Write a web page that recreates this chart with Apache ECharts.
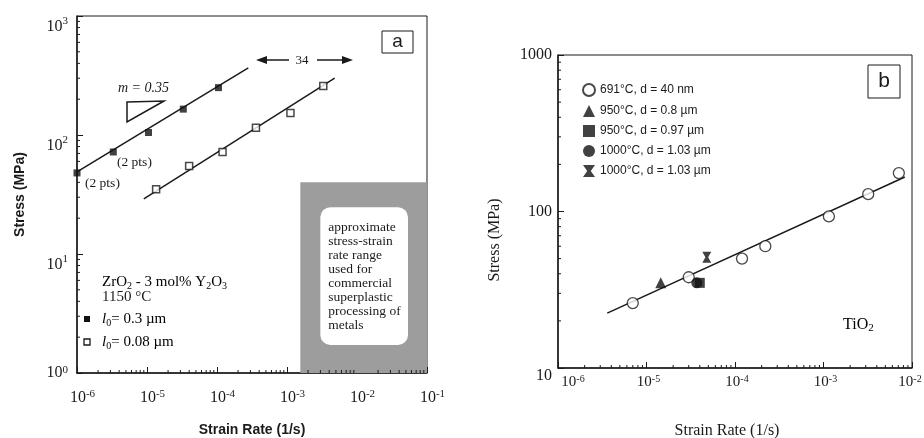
<!DOCTYPE html>
<html lang="en">
<head>
<meta charset="UTF-8">
<title>stress vs strain rate</title>
<script src="https://cdn.jsdelivr.net/npm/echarts@6/dist/echarts.min.js"></script>
<style>
    html, body, #main {
        margin: 0;
        padding: 0;
        width: 924px;
        height: 438px;
        background: #fff;
    }
</style>
</head>
<body>
<div id="main"></div>
<script>
// (a) ZrO2 - 3 mol% Y2O3, 1150 °C
const rateA_03 = [1e-6, 3.3e-6, 1.05e-5, 3.3e-5, 1.05e-4];
const stressA_03 = [48, 72, 105, 165, 250];
const rateA_008 = [1.35e-5, 4e-5, 1.2e-4, 3.6e-4, 1.12e-3, 3.3e-3];
const stressA_008 = [35, 55, 72, 115, 153, 258];
const fitRateA_03 = [1e-6, 2.8e-4];
const fitStressA_03 = [49, 366];
const fitRateA_008 = [9e-6, 4.8e-3];
const fitStressA_008 = [29, 301];
// commercial superplastic window (shaded)
const commercialRate = [1.55e-3, 1e-1];
const commercialStress = [1, 40];

// (b) TiO2
const rateB_40nm = [7e-6, 3e-5, 1.2e-4, 2.2e-4, 1.15e-3, 3.2e-3, 7.1e-3];
const stressB_40nm = [26, 38, 50, 60, 93, 129, 176];
const rateB_08 = [1.45e-5];
const stressB_08 = [35];
const rateB_097 = [4.0e-5];
const stressB_097 = [35];
const rateB_103a = [3.7e-5];
const stressB_103a = [35];
const rateB_103b = [4.8e-5];
const stressB_103b = [51];
const fitRateB = [3.6e-6, 8.3e-3];
const fitStressB = [22.4, 166];

const namesB = ['691°C, d = 40 nm', '950°C, d = 0.8 µm', '950°C, d = 0.97 µm',
    '1000°C, d = 1.03 µm', '1000°C, d = 1.03 µm '];

const serif = 'Liberation Serif';
const sans = 'Liberation Sans';
const ink = '#1a1a1a';

const pts = (xs, ys) => xs.map((x, i) => [x, ys[i]]);

function expOf(v) {
    return Math.round(Math.log10(v));
}
function xPowA(v) {
    return '{b|10}{e|' + expOf(v) + '}';
}
// end labels of (b): first sits right of its tick, last a little left
function xPowB(v) {
    const e = expOf(v);
    if (e === -6) return '{bf|10}{e|' + e + '}';
    if (e === -2) return '{b|10}{el|' + e + '}';
    return '{b|10}{e|' + e + '}';
}
// y axis (a): labels hang under the tick, 10^0 centred on it
function yPow(v) {
    const e = expOf(v);
    return e === 0 ? '{b0|10}{e|0}' : '{b|10}{e|' + e + '}';
}
const xRichA = {
    b: { fontSize: 16, fontFamily: serif, color: ink, lineHeight: 18, padding: [0, 0, 0, 11] },
    e: { fontSize: 11, fontFamily: serif, color: ink, verticalAlign: 'top', lineHeight: 11 }
};
const xRichB = {
    b: { fontSize: 15, fontFamily: serif, color: ink, lineHeight: 16, padding: [0, 0, 0, 4] },
    bf: { fontSize: 15, fontFamily: serif, color: ink, lineHeight: 16, padding: [0, 0, 0, 30] },
    e: { fontSize: 10, fontFamily: serif, color: ink, verticalAlign: 'top', lineHeight: 10 },
    el: { fontSize: 10, fontFamily: serif, color: ink, verticalAlign: 'top', lineHeight: 10, padding: [0, 8, 0, 0] }
};
const yRichA = {
    b: { fontSize: 16, fontFamily: serif, color: ink, lineHeight: 22 },
    b0: { fontSize: 16, fontFamily: serif, color: ink, lineHeight: 16 },
    e: { fontSize: 11, fontFamily: serif, color: ink, verticalAlign: 'top', lineHeight: 11 }
};
const subRich = (size) => ({
    t: { fontFamily: serif, fontSize: size, color: ink, lineHeight: size + 2 },
    i: { fontFamily: serif, fontStyle: 'italic', fontSize: size, color: ink, lineHeight: size + 2 },
    s: { fontFamily: serif, fontSize: Math.round(size * 0.68), color: ink, verticalAlign: 'bottom', lineHeight: 9 }
});

// minor log ticks (2..9 per decade)
function minors(lo, hi) {
    const out = [];
    for (let e = lo; e < hi; e++) {
        for (let k = 2; k <= 9; k++) out.push(k * Math.pow(10, e));
    }
    return out;
}
function tickSeries(idx, vals, dir, fixed) {
    return {
        type: 'custom', xAxisIndex: idx, yAxisIndex: idx, silent: true, clip: false, z: 5,
        data: vals.map(v => dir === 'x' ? [v, fixed] : [fixed, v]),
        renderItem: (params, api) => {
            const p = api.coord([api.value(0), api.value(1)]);
            const shape = dir === 'x'
                ? { x1: p[0], y1: p[1], x2: p[0], y2: p[1] - 3 }
                : { x1: p[0], y1: p[1], x2: p[0] + 3, y2: p[1] };
            return { type: 'line', shape: shape, style: { stroke: ink, lineWidth: 1 } };
        }
    };
}

function logAxis(idx, min, max, opts) {
    return Object.assign({
        type: 'log', logBase: 10, gridIndex: idx, min: min, max: max,
        axisLine: { show: true, lineStyle: { color: ink, width: 1.5 } },
        axisTick: { show: true, inside: true, length: 6, lineStyle: { color: ink } },
        splitLine: { show: false },
        nameLocation: 'middle'
    }, opts);
}

const chart = echarts.init(document.getElementById('main'));

const option = {
    animation: false,
    backgroundColor: '#fff',
    grid: [
        { left: 77, top: 16, width: 350, height: 357, show: true, borderColor: ink, borderWidth: 1,
          containLabel: false, outerBoundsMode: 'none' },
        { left: 558, top: 55, width: 354, height: 313, show: true, borderColor: ink, borderWidth: 1,
          containLabel: false, outerBoundsMode: 'none' }
    ],
    xAxis: [
        logAxis(0, 1e-6, 1e-1, {
            name: 'Strain Rate (1/s)', nameGap: 50,
            nameTextStyle: { fontFamily: sans, fontWeight: 'bold', fontSize: 14, color: ink },
            axisLabel: { margin: 16, formatter: xPowA, rich: xRichA }
        }),
        logAxis(1, 1e-6, 1e-2, {
            name: 'Strain Rate (1/s)', nameGap: 55,
            nameTextStyle: { fontFamily: serif, fontSize: 16, color: ink, padding: [0, 16, 0, 0] },
            axisLabel: { margin: 6, formatter: xPowB, rich: xRichB }
        })
    ],
    yAxis: [
        logAxis(0, 1, 1000, {
            name: 'Stress (MPa)', nameGap: 50,
            nameTextStyle: { fontFamily: sans, fontWeight: 'bold', fontSize: 14, color: ink },
            axisLabel: { margin: 9, verticalAlign: 'top', verticalAlignMinLabel: 'middle', formatter: yPow, rich: yRichA }
        }),
        logAxis(1, 10, 1000, {
            axisLabel: { margin: 6, fontFamily: serif, fontSize: 16, color: ink, verticalAlignMinLabel: 'top',
                         formatter: v => String(v) }
        })
    ],
    legend: {
        data: namesB,
        orient: 'vertical',
        left: 582, top: 83,
        padding: 0,
        itemGap: 8,
        itemWidth: 12, itemHeight: 12,
        selectedMode: false,
        textStyle: { fontFamily: sans, fontSize: 12, color: ink }
    },
    series: [
        // shaded commercial window
        {
            type: 'custom', xAxisIndex: 0, yAxisIndex: 0, silent: true, z: 1,
            data: [[commercialRate[0], commercialStress[1], commercialRate[1], commercialStress[0]]],
            renderItem: (params, api) => {
                const a = api.coord([api.value(0), api.value(1)]);
                const b = api.coord([api.value(2), api.value(3)]);
                return {
                    type: 'group', children: [
                        { type: 'rect', shape: { x: a[0], y: a[1], width: b[0] - a[0], height: b[1] - a[1] },
                          style: { fill: '#9d9d9d' } },
                        { type: 'rect', shape: { x: a[0] + 20, y: a[1] + 25, width: b[0] - a[0] - 39, height: b[1] - a[1] - 53, r: 10 },
                          style: { fill: '#fff' } },
                        { type: 'text', x: a[0] + 28, y: a[1] + 38,
                          style: { text: 'approximate\nstress-strain\nrate range\nused for\ncommercial\nsuperplastic\nprocessing of\nmetals',
                                   font: '13.5px ' + serif, lineHeight: 14, fill: ink, align: 'left', verticalAlign: 'top' } }
                    ]
                };
            }
        },
        {
            type: 'line', xAxisIndex: 0, yAxisIndex: 0, data: pts(fitRateA_03, fitStressA_03),
            showSymbol: false, lineStyle: { color: ink, width: 1.5 }, silent: true, z: 2
        },
        {
            type: 'line', xAxisIndex: 0, yAxisIndex: 0, data: pts(fitRateA_008, fitStressA_008),
            showSymbol: false, lineStyle: { color: ink, width: 1.5 }, silent: true, z: 2
        },
        {
            name: 'l0 = 0.3', type: 'scatter', xAxisIndex: 0, yAxisIndex: 0,
            data: pts(rateA_03, stressA_03), symbol: 'rect', symbolSize: 7,
            itemStyle: { color: '#111' }, z: 3
        },
        {
            name: 'l0 = 0.08', type: 'scatter', xAxisIndex: 0, yAxisIndex: 0,
            data: pts(rateA_008, stressA_008), symbol: 'rect', symbolSize: 7,
            itemStyle: { color: '#fff', borderColor: ink, borderWidth: 1.5 }, z: 3
        },
        // panel b
        {
            type: 'line', xAxisIndex: 1, yAxisIndex: 1, data: pts(fitRateB, fitStressB),
            showSymbol: false, lineStyle: { color: ink, width: 1.5 }, silent: true, z: 2
        },
        {
            name: namesB[0], type: 'scatter', xAxisIndex: 1, yAxisIndex: 1,
            data: pts(rateB_40nm, stressB_40nm), symbol: 'circle', symbolSize: 11,
            itemStyle: { color: '#fff', borderColor: ink, borderWidth: 1.3 }, z: 3
        },
        {
            name: namesB[1], type: 'scatter', xAxisIndex: 1, yAxisIndex: 1,
            data: pts(rateB_08, stressB_08), symbol: 'triangle', symbolSize: 11,
            itemStyle: { color: '#111' }, z: 3
        },
        {
            name: namesB[2], type: 'scatter', xAxisIndex: 1, yAxisIndex: 1,
            data: pts(rateB_097, stressB_097), symbol: 'rect', symbolSize: 10,
            itemStyle: { color: '#111' }, z: 3
        },
        {
            name: namesB[3], type: 'scatter', xAxisIndex: 1, yAxisIndex: 1,
            data: pts(rateB_103a, stressB_103a), symbol: 'circle', symbolSize: 11,
            itemStyle: { color: '#111' }, z: 3
        },
        {
            name: namesB[4], type: 'scatter', xAxisIndex: 1, yAxisIndex: 1,
            data: pts(rateB_103b, stressB_103b),
            symbol: 'path://M0,0 L10,0 L6.5,5 L10,10 L0,10 L3.5,5 Z', symbolSize: [9, 11],
            itemStyle: { color: '#111' }, z: 3
        },
        tickSeries(0, minors(-6, -1), 'x', 1),
        tickSeries(0, minors(0, 3), 'y', 1e-6),
        tickSeries(1, minors(-6, -2), 'x', 10),
        tickSeries(1, minors(1, 3), 'y', 1e-6)
    ],
    graphic: [
        // panel a annotations
        { type: 'text', x: 118, y: 88, style: { text: 'm = 0.35', font: 'italic 14px ' + serif, fill: ink, verticalAlign: 'middle' } },
        { type: 'polygon', shape: { points: [[127, 102], [164, 101], [127, 122]] },
          style: { fill: 'none', stroke: ink, lineWidth: 1.5 } },
        { type: 'line', shape: { x1: 262, y1: 60, x2: 289, y2: 60 }, style: { stroke: ink, lineWidth: 1.5 } },
        { type: 'polygon', shape: { points: [[256, 60], [267, 56], [267, 64]] }, style: { fill: ink } },
        { type: 'text', x: 302, y: 61, style: { text: '34', font: '13px ' + serif, fill: ink, align: 'center', verticalAlign: 'middle' } },
        { type: 'line', shape: { x1: 317, y1: 60, x2: 346, y2: 60 }, style: { stroke: ink, lineWidth: 1.5 } },
        { type: 'polygon', shape: { points: [[353, 60], [342, 56], [342, 64]] }, style: { fill: ink } },
        { type: 'rect', shape: { x: 382, y: 31, width: 31, height: 22 }, style: { fill: '#fff', stroke: ink, lineWidth: 1 } },
        { type: 'text', x: 397.5, y: 42, style: { text: 'a', font: '19px ' + sans, fill: ink, align: 'center', verticalAlign: 'middle' } },
        { type: 'text', x: 85, y: 183, style: { text: '(2 pts)', font: '13.5px ' + serif, fill: ink, verticalAlign: 'middle' } },
        { type: 'text', x: 117, y: 162, style: { text: '(2 pts)', font: '13.5px ' + serif, fill: ink, verticalAlign: 'middle' } },
        { type: 'text', x: 102, y: 274, style: { text: '{t|ZrO}{s|2}{t| - 3 mol% Y}{s|2}{t|O}{s|3}', rich: subRich(15) } },
        { type: 'text', x: 102, y: 297, style: { text: '1150 °C', font: '15px ' + serif, fill: ink, verticalAlign: 'middle' } },
        { type: 'rect', shape: { x: 84, y: 316, width: 6, height: 6 }, style: { fill: '#111' } },
        { type: 'rect', shape: { x: 84, y: 339, width: 6, height: 6 }, style: { fill: '#fff', stroke: ink, lineWidth: 1.3 } },
        { type: 'text', x: 102, y: 311, style: { text: '{i|l}{s|0}{t|= 0.3 µm}', rich: subRich(15) } },
        { type: 'text', x: 102, y: 334, style: { text: '{i|l}{s|0}{t|= 0.08 µm}', rich: subRich(15) } },
        // panel b annotations
        { type: 'text', x: 495, y: 240, rotation: Math.PI / 2,
          style: { text: 'Stress (MPa)', font: '16px ' + serif, fill: ink, align: 'center', verticalAlign: 'middle' } },
        { type: 'rect', shape: { x: 868, y: 65, width: 32, height: 33 }, style: { fill: '#fff', stroke: ink, lineWidth: 1 } },
        { type: 'text', x: 884, y: 81, style: { text: 'b', font: '21px ' + sans, fill: ink, align: 'center', verticalAlign: 'middle' } },
        { type: 'text', x: 843, y: 316, style: { text: '{t|TiO}{s|2}', rich: subRich(16) } }
    ]
};

chart.setOption(option);
</script>
</body>
</html>
